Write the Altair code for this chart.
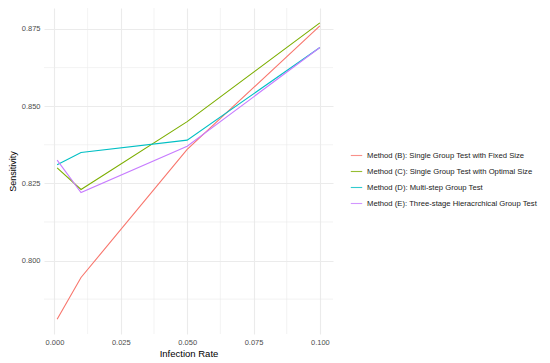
import altair as alt
import pandas as pd

rates = [0.001, 0.01, 0.05, 0.1]
methods = [
    "Method (B): Single Group Test with Fixed Size",
    "Method (C): Single Group Test with Optimal Size",
    "Method (D): Multi-step Group Test",
    "Method (E): Three-stage Hieracrchical Group Test",
]
sens_b = [0.781, 0.7945, 0.836, 0.876]
sens_c = [0.830, 0.823, 0.845, 0.877]
sens_d = [0.831, 0.835, 0.839, 0.869]
sens_e = [0.8325, 0.822, 0.837, 0.869]
colors = ["#F8766D", "#7CAE00", "#00BFC4", "#C77CFF"]

x_major = [0.0, 0.025, 0.05, 0.075, 0.1]
x_minor = [0.0125, 0.0375, 0.0625, 0.0875]
y_major = [0.800, 0.825, 0.850, 0.875]
y_minor = [0.7875, 0.8125, 0.8375, 0.8625]

rows = []
for m, vals in zip(methods, [sens_b, sens_c, sens_d, sens_e]):
    for r, v in zip(rates, vals):
        rows.append({"Infection Rate": r, "Sensitivity": v, "Method": m})
df = pd.DataFrame(rows)

xdom = [-0.00395, 0.10495]
ydom = [0.7762, 0.8818]
xs = alt.Scale(domain=xdom, nice=False, zero=False)
ys = alt.Scale(domain=ydom, nice=False, zero=False)

grid_color = "#EBEBEB"
xaxis = alt.Axis(values=x_major, format=".3f", title="Infection Rate")
yaxis = alt.Axis(values=y_major, format=".3f", title="Sensitivity")

xminor = alt.Chart(pd.DataFrame({"v": x_minor})).mark_rule(color=grid_color, strokeWidth=0.6).encode(
    x=alt.X("v:Q", scale=xs, axis=xaxis, title="Infection Rate"))
yminor = alt.Chart(pd.DataFrame({"v": y_minor})).mark_rule(color=grid_color, strokeWidth=0.6).encode(
    y=alt.Y("v:Q", scale=ys, axis=yaxis, title="Sensitivity"))

lines = alt.Chart(df).mark_line(strokeWidth=1.1).encode(
    x=alt.X("Infection Rate:Q", scale=xs, axis=xaxis, title="Infection Rate"),
    y=alt.Y("Sensitivity:Q", scale=ys, axis=yaxis, title="Sensitivity"),
    color=alt.Color("Method:N", scale=alt.Scale(domain=methods, range=colors),
                    legend=alt.Legend(title=None, orient="none", legendX=306, legendY=141,
                                      symbolType="stroke", symbolSize=130, symbolStrokeWidth=1.1,
                                      symbolOpacity=0.8,
                                      labelFontSize=7.7, labelColor="#1A1A1A",
                                      labelFont="Liberation Sans", rowPadding=5,
                                      labelOffset=4, labelLimit=300)),
)

chart = alt.layer(xminor, yminor, lines).properties(
    width=289, height=326,
    autosize=alt.AutoSizeParams(type="none"),
    padding={"left": 36, "top": 0, "right": 209, "bottom": 28},
).configure_view(stroke=None).configure_axis(
    grid=True, gridColor=grid_color, gridWidth=1.1, domain=False, ticks=False,
    labelFont="Liberation Sans", labelFontSize=7.5, labelColor="#4D4D4D", labelPadding=4,
    titleFont="Liberation Sans", titleFontSize=9.5, titleFontWeight="normal", titleColor="#000000",
).configure_axisX(titlePadding=3).configure_axisY(titlePadding=4, titleFontSize=9)

chart.save("out.html", embed_options={"renderer": "svg", "actions": False})
